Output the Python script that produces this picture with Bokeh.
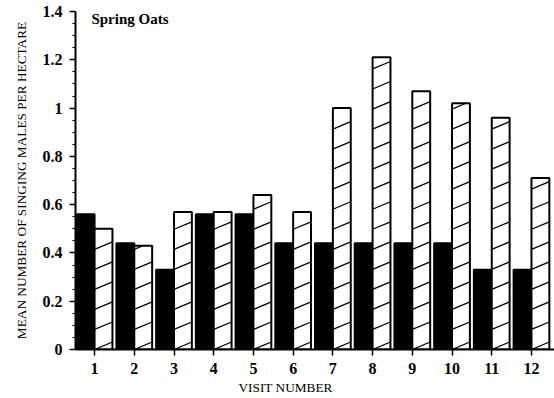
import numpy as np
from bokeh.plotting import figure
from bokeh.models import Range1d, FixedTicker, Label, Title, ColumnDataSource
from bokeh.embed import file_html
from bokeh.resources import INLINE

# Mean number of singing males per hectare, spring oats, by visit
visits = list(range(1, 13))
visit_labels = [str(v) for v in visits]
males_solid = [0.56, 0.44, 0.33, 0.56, 0.56, 0.44, 0.44, 0.44, 0.44, 0.44, 0.33, 0.33]
males_hatched = [0.50, 0.43, 0.57, 0.57, 0.64, 0.57, 1.00, 1.21, 1.07, 1.02, 0.96, 0.71]
y_ticks = [0, 0.2, 0.4, 0.6, 0.8, 1.0, 1.2, 1.4]
y_tick_labels = ["0", "0.2", "0.4", "0.6", "0.8", "1", "1.2", "1.4"]

SERIF = "Liberation Serif"
BAR_W = 0.45

p = figure(width=554, height=398, output_backend="svg", toolbar_location=None,
           x_range=Range1d(0.52, 12.58), y_range=Range1d(0, 1.4),
           min_border_left=75, min_border_right=0, min_border_top=11,
           min_border_bottom=49)
p.outline_line_color = None
p.xgrid.visible = False
p.ygrid.visible = False
p.background_fill_color = "white"
p.border_fill_color = "white"

vis = np.array(visits, dtype=float)
solid_src = ColumnDataSource(dict(x=vis - BAR_W / 2, top=males_solid))
hatch_src = ColumnDataSource(dict(x=vis + BAR_W / 2, top=males_hatched))

p.vbar(x="x", top="top", bottom=0, width=BAR_W, source=solid_src,
       fill_color="black", line_color="black", line_width=2)
p.vbar(x="x", top="top", bottom=0, width=BAR_W, source=hatch_src,
       fill_color="white", line_color="black", line_width=2)

# shallow diagonal hatching inside the open bars
SPACING = 0.083
RISE = 0.031
x0s, y0s, x1s, y1s = [], [], [], []
for v, top in zip(vis, males_hatched):
    xl, xr = v, v + BAR_W
    slope = RISE / BAR_W
    for y0 in np.arange(0.0, top, SPACING):
        ya, yb = y0, y0 + RISE
        xa, xb = xl, xr
        if yb > top:
            xb = xl + (top - y0) / slope
            yb = top
        x0s.append(xa); y0s.append(ya); x1s.append(xb); y1s.append(yb)
p.segment(x0=x0s, y0=y0s, x1=x1s, y1=y1s, line_color="black", line_width=1.3)

# y axis
ya = p.yaxis[0]
ya.ticker = FixedTicker(ticks=y_ticks,
                        minor_ticks=[round(t, 2) for t in np.arange(0, 1.401, 0.05)])
ya.major_label_overrides = {t: s for t, s in zip(y_ticks, y_tick_labels)}
ya.axis_line_width = 2
ya.axis_line_color = "black"
ya.major_tick_in = 0
ya.major_tick_out = 6
ya.minor_tick_in = 0
ya.minor_tick_out = 3
ya.major_tick_line_width = 1.5
ya.major_tick_line_color = "black"
ya.minor_tick_line_color = "black"
ya.major_label_standoff = 7
ya.major_label_text_font = SERIF
ya.major_label_text_font_size = "16px"
ya.major_label_text_font_style = "bold"
ya.major_label_text_color = "black"
ya.axis_label = "MEAN NUMBER OF SINGING MALES PER HECTARE"
ya.axis_label_text_font = SERIF
ya.axis_label_text_font_size = "13.3px"
ya.axis_label_text_font_style = "normal"
ya.axis_label_text_color = "black"
ya.axis_label_standoff = 11

# x axis
xa = p.xaxis[0]
xa.ticker = FixedTicker(ticks=visits, minor_ticks=[])
xa.major_label_overrides = {v: s for v, s in zip(visits, visit_labels)}
xa.axis_line_width = 2
xa.axis_line_color = "black"
xa.major_tick_in = 0
xa.major_tick_out = 6
xa.major_tick_line_width = 1.5
xa.major_tick_line_color = "black"
xa.major_label_standoff = 7
xa.major_label_text_font = SERIF
xa.major_label_text_font_size = "16px"
xa.major_label_text_font_style = "bold"
xa.major_label_text_color = "black"

xtitle = Title(text="VISIT NUMBER", align="left", offset=163, standoff=2,
               text_font=SERIF, text_font_size="13.3px", text_font_style="normal",
               text_color="black")
p.add_layout(xtitle, "below")

p.add_layout(Label(x=0.92, y=1.371, text="Spring Oats", text_font=SERIF,
                   text_font_size="15px", text_font_style="bold",
                   text_color="black", text_baseline="middle", text_align="left"))

open("out.html", "w").write(file_html(p, INLINE))
